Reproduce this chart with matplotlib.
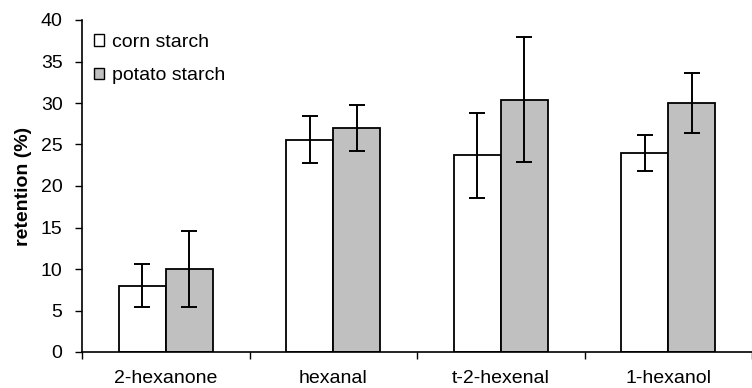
import matplotlib
matplotlib.use("Agg")
import matplotlib.pyplot as plt
import numpy as np
from matplotlib.patches import Patch

categories = ["2-hexanone", "hexanal", "t-2-hexenal", "1-hexanol"]
corn = [8.0, 25.6, 23.7, 24.0]
corn_err = [2.55, 2.8, 5.1, 2.2]
potato = [10.0, 27.0, 30.4, 30.0]
potato_err = [4.55, 2.8, 7.5, 3.65]
yticks = [0, 5, 10, 15, 20, 25, 30, 35, 40]

plt.rcParams['font.family'] = ['Liberation Sans', 'DejaVu Sans']
FS = 14

fig = plt.figure(figsize=(7.52, 3.88), dpi=100)
ax = fig.add_axes([82/752, 36/388, 670/752, 332/388])

x = np.arange(len(categories))
w = 0.28
ekw = dict(ecolor='black', elinewidth=1.4, capsize=5.5, capthick=1.4)
ax.bar(x - w/2, corn, w, color='white', edgecolor='black', linewidth=1.3,
       yerr=corn_err, error_kw=ekw, label='corn starch')
ax.bar(x + w/2, potato, w, color='#c0c0c0', edgecolor='black', linewidth=1.3,
       yerr=potato_err, error_kw=ekw, label='potato starch')

ax.set_xlim(-0.5, 3.5 - 10/170)
ax.set_ylim(0, 40)
ax.set_yticks(yticks)
ax.set_yticklabels([str(t) for t in yticks], fontsize=FS)
ax.tick_params(axis='y', direction='out', length=5, width=1, pad=9)

ax.set_xticks(np.arange(len(categories) + 1) - 0.5)
ax.set_xticklabels([])
ax.tick_params(axis='x', which='major', direction='out', length=5, width=1)
ax.set_xticks(x, minor=True)
ax.set_xticklabels(categories, minor=True, fontsize=FS)
ax.tick_params(axis='x', which='minor', length=0, pad=13)

for s in ['top', 'right']:
    ax.spines[s].set_visible(False)
for s in ['left', 'bottom']:
    ax.spines[s].set_linewidth(1.2)

ax.set_ylabel('retention (%)', fontsize=FS, fontweight='bold', labelpad=6)

handles = [Patch(facecolor='white', edgecolor='black', linewidth=1.0),
           Patch(facecolor='#c0c0c0', edgecolor='black', linewidth=1.0)]
ax.legend(handles, ['corn starch', 'potato starch'], loc='upper left',
          bbox_to_anchor=(1/670, 1 - 3/332), frameon=False, fontsize=FS,
          handlelength=0.55, handleheight=0.55, handletextpad=0.4,
          labelspacing=0.86, borderpad=0, borderaxespad=0.55)

fig.savefig('out.png', dpi=100)
